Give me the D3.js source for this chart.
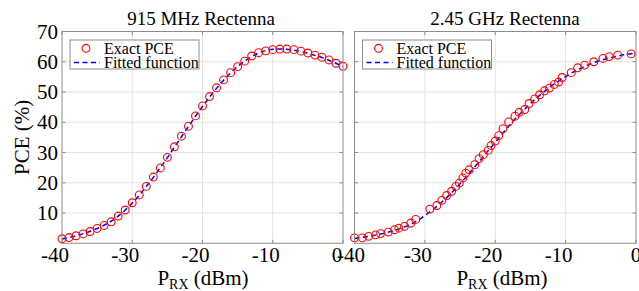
<!DOCTYPE html>
<html lang="en">
<head>
  <meta charset="utf-8" />
  <title>PCE vs received power</title>
  <script src="https://d3js.org/d3.v7.min.js"></script>
  <style>
    body { margin: 0; padding: 0; background: #ffffff; }
    svg, svg text { font-family: "Times New Roman", "Liberation Serif", "DejaVu Serif", serif; }
    svg text { fill: #000; }
    .grid line { stroke: #e3e3e3; stroke-width: 1; }
    .frame { fill: none; stroke: #8c8c8c; stroke-width: 1; }
    .tick-mark { stroke: #8c8c8c; stroke-width: 1; }
  </style>
</head>
<body>
<div id="chart"></div>
<script>
// ---- data ----
const xTicks = [-40, -30, -20, -10, 0];
const yTicks = [10, 20, 30, 40, 50, 60, 70];
const legendLabels = ["Exact PCE", "Fitted function"];
const panelTitles = ["915 MHz Rectenna", "2.45 GHz Rectenna"];

// 915 MHz: measured points (1 dBm steps)
const pRx915 = d3.range(-40, 1, 1);
const pce915 = [1.5, 1.9, 2.5, 3.1, 3.9, 4.9, 5.9, 7.1, 9.0, 11.0,
                13.4, 16.0, 18.8, 21.9, 24.9, 28.4, 31.9, 35.4, 38.7, 42.1,
                45.4, 48.5, 51.4, 54.0, 56.4, 58.4, 60.2, 61.9, 63.0, 63.6,
                64.0, 64.2, 64.2, 64.0, 63.5, 62.9, 62.2, 61.5, 60.6, 59.5, 58.5];
const fit915 = [1.4, 1.9, 2.5, 3.2, 4.0, 4.9, 6.0, 7.3, 9.0, 11.0,
                13.3, 15.9, 18.8, 21.8, 25.0, 28.3, 31.8, 35.2, 38.6, 42.0,
                45.2, 48.3, 51.2, 53.9, 56.3, 58.4, 60.2, 61.7, 62.9, 63.7,
                64.1, 64.2, 64.1, 63.8, 63.4, 62.8, 62.1, 61.4, 60.5, 59.5, 58.4];

// 2.45 GHz: measured points (irregular steps)
const pRx245 = [-40.0, -38.9, -38.0, -37.0, -36.3, -35.2, -34.3, -33.7, -32.9, -32.0,
                -31.3, -29.3, -28.3, -27.6, -26.9, -26.2, -25.6, -25.1, -24.6, -24.2,
                -23.7, -22.9, -22.3, -21.7, -21.0, -20.6, -20.0, -19.5, -18.9, -18.1,
                -17.2, -16.6, -15.8, -15.2, -14.4, -13.7, -13.0, -12.3, -11.6, -11.0,
                -10.5, -9.2, -8.3, -7.3, -6.0, -4.7, -3.8, -2.6, -0.7];
const pce245 = [1.8, 1.8, 2.3, 2.8, 3.2, 3.7, 4.5, 5.0, 5.6, 6.7,
                7.9, 11.3, 12.5, 14.2, 15.8, 17.2, 18.8, 19.9, 21.6, 23.2,
                24.3, 26.0, 28.0, 29.3, 30.7, 32.3, 33.8, 35.6, 37.9, 40.1,
                42.0, 43.3, 44.2, 46.2, 47.7, 49.1, 50.4, 51.3, 52.5, 53.3,
                54.8, 56.4, 58.0, 58.9, 60.0, 61.1, 61.7, 62.2, 62.6];
const fitX245 = d3.range(-40, 1, 1);
const fit245 = [1.6, 1.9, 2.3, 2.7, 3.2, 3.8, 4.5, 5.3, 6.3, 7.6,
                9.2, 10.9, 12.8, 14.9, 17.2, 19.7, 22.3, 25.0, 27.8, 30.6,
                33.4, 36.2, 38.9, 41.5, 43.9, 46.2, 48.3, 50.2, 52.0, 53.6,
                55.1, 56.5, 57.7, 58.8, 59.7, 60.5, 61.1, 61.7, 62.2, 62.6, 62.9];

// ---- layout ----
const W = 639, H = 291;
const plotTop = 31.5, plotBottom = 243.3;
const serif = "'Times New Roman', 'Liberation Serif', 'DejaVu Serif', serif";
const panels = [
  { left: 62, right: 343, title: panelTitles[0], titleX: 201, labelX: 203,
    firstDx: -7, zeroDx: -6,
    px: pRx915, py: pce915, fx: pRx915, fy: fit915, yLabels: true },
  { left: 354.5, right: 636, title: panelTitles[1], titleX: 505, labelX: 502,
    firstDx: -3.5, zeroDx: 0,
    px: pRx245, py: pce245, fx: fitX245, fy: fit245, yLabels: false }
];

const svg = d3.select("#chart").append("svg")
  .attr("width", W).attr("height", H)
  .attr("font-family", serif);

const y = d3.scaleLinear().domain([0, 70]).range([plotBottom, plotTop]);

panels.forEach(p => {
  const x = d3.scaleLinear().domain([-40, 0]).range([p.left, p.right]);
  const g = svg.append("g");

  // white plot area
  g.append("rect")
    .attr("x", p.left).attr("y", plotTop)
    .attr("width", p.right - p.left).attr("height", plotBottom - plotTop)
    .attr("fill", "#fff");

  // grid
  const grid = g.append("g").attr("class", "grid");
  grid.selectAll(".gx").data(xTicks.slice(1, -1)).enter().append("line")
    .attr("x1", d => x(d)).attr("x2", d => x(d))
    .attr("y1", plotTop).attr("y2", plotBottom);
  grid.selectAll(".gy").data(yTicks.slice(0, -1)).enter().append("line")
    .attr("x1", p.left).attr("x2", p.right)
    .attr("y1", d => y(d)).attr("y2", d => y(d));

  // tick marks on all four sides (inside)
  const tl = 3.5;
  xTicks.forEach(d => {
    g.append("line").attr("class", "tick-mark")
      .attr("x1", x(d)).attr("x2", x(d)).attr("y1", plotBottom).attr("y2", plotBottom - tl);
    g.append("line").attr("class", "tick-mark")
      .attr("x1", x(d)).attr("x2", x(d)).attr("y1", plotTop).attr("y2", plotTop + tl);
  });
  yTicks.forEach(d => {
    g.append("line").attr("class", "tick-mark")
      .attr("x1", p.left).attr("x2", p.left + tl).attr("y1", y(d)).attr("y2", y(d));
    g.append("line").attr("class", "tick-mark")
      .attr("x1", p.right).attr("x2", p.right - tl).attr("y1", y(d)).attr("y2", y(d));
  });

  // fitted line
  const line = d3.line()
    .x((d, i) => x(p.fx[i]))
    .y(d => y(d))
    .curve(d3.curveMonotoneX);
  g.append("path")
    .datum(p.fy)
    .attr("d", line)
    .attr("fill", "none")
    .attr("stroke", "#0000ff")
    .attr("stroke-width", 1.5)
    .attr("stroke-dasharray", "5,3.5");

  // exact points
  g.selectAll(".pt").data(p.py).enter().append("circle")
    .attr("cx", (d, i) => x(p.px[i]))
    .attr("cy", d => y(d))
    .attr("r", 3.9)
    .attr("fill", "none")
    .attr("stroke", "#ff0000")
    .attr("stroke-width", 1.1);

  // frame
  g.append("rect").attr("class", "frame")
    .attr("x", p.left).attr("y", plotTop)
    .attr("width", p.right - p.left).attr("height", plotBottom - plotTop);

  // x tick labels
  g.selectAll(".xl").data(xTicks).enter().append("text")
    .attr("x", (d, i) => x(d) + (i === 0 ? p.firstDx : d < 0 ? -7 : p.zeroDx))
    .attr("y", 262)
    .attr("text-anchor", "middle")
    .style("font-size", "21px")
    .text(d => d);

  // y tick labels
  if (p.yLabels) {
    g.selectAll(".yl").data(yTicks).enter().append("text")
      .attr("x", p.left - 4)
      .attr("y", d => y(d) + 7)
      .attr("text-anchor", "end")
      .style("font-size", "21px")
      .text(d => d);
  }

  // title
  g.append("text")
    .attr("x", p.titleX).attr("y", 25)
    .attr("text-anchor", "middle")
    .style("font-size", "19px")
    .text(p.title);

  // x axis label
  const xl = g.append("text")
    .attr("x", p.labelX).attr("y", 285)
    .attr("text-anchor", "middle")
    .style("font-size", "21px");
  xl.append("tspan").text("P");
  xl.append("tspan").attr("dy", 4).style("font-size", "14px").text("RX");
  xl.append("tspan").attr("dy", -4).text(" (dBm)");

  // legend
  const lg = g.append("g").attr("transform", `translate(${p.left + 8},${plotTop + 8.5})`);
  lg.append("rect")
    .attr("width", 129).attr("height", 29)
    .attr("fill", "#fff").attr("stroke", "#8c8c8c").attr("stroke-width", 1);
  lg.append("circle")
    .attr("cx", 16).attr("cy", 8.3).attr("r", 3.9)
    .attr("fill", "none").attr("stroke", "#ff0000").attr("stroke-width", 1.1);
  lg.append("line")
    .attr("x1", 4).attr("x2", 30).attr("y1", 22.5).attr("y2", 22.5)
    .attr("stroke", "#0000ff").attr("stroke-width", 1.5)
    .attr("stroke-dasharray", "5,3.5");
  lg.selectAll(".lt").data(legendLabels).enter().append("text")
    .attr("x", 34)
    .attr("y", (d, i) => 13.5 + i * 14.2)
    .style("font-size", "16px")
    .text(d => d);
});

// y axis label
svg.append("text")
  .attr("transform", `translate(29,${(plotTop + plotBottom) / 2}) rotate(-90)`)
  .attr("text-anchor", "middle")
  .style("font-size", "21px")
  .text("PCE (%)");
</script>
</body>
</html>
